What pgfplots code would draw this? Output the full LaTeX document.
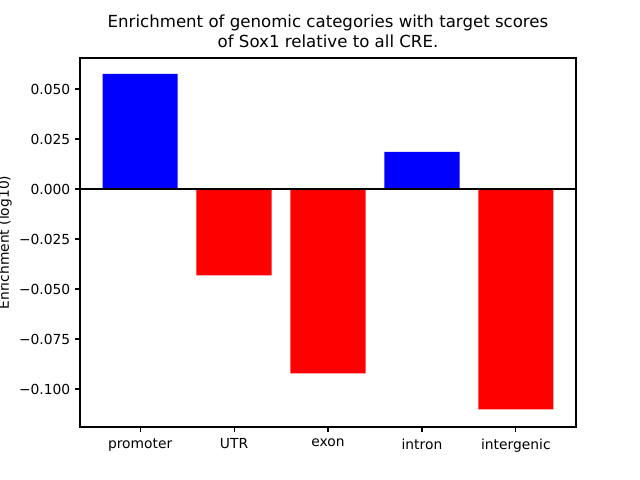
\documentclass[border=0pt]{standalone}
\usepackage{pgfplots}
\pgfplotsset{compat=1.18}
\usepackage{fontspec}
\setmainfont{DejaVu Sans}
\begin{document}
\begin{tikzpicture}
\useasboundingbox (-0.8in,-0.53in) rectangle (5.6in,4.27in);
\begin{axis}[
  at={(0,0)}, anchor=south west,
  scale only axis, width=4.96in, height=3.69in,
  xmin=-0.64, xmax=4.64, ymin=-0.119, ymax=0.0655,
  xtick={0,1,2,3,4},
  xticklabels={promoter,UTR,exon,intron,intergenic},
  ytick={-0.1,-0.075,-0.05,-0.025,0,0.025,0.05},
  yticklabels={−0.100,−0.075,−0.050,−0.025,0.000,0.025,0.050},
  tick align=outside, tick pos=left,
  major tick length=3.5pt,
  tick style={black, line width=0.8pt},
  axis line style={line width=0.8pt},
  ticklabel style={font=\fontsize{10}{12}\selectfont},
  xticklabel style={yshift=-1.5pt},
  ylabel={Enrichment (log10)},
  ylabel style={font=\fontsize{10}{12}\selectfont, xshift=0pt, yshift=-1.5pt},
  title={Enrichment of genomic categories with target scores\\of Sox1 relative to all CRE.},
  title style={align=center, font=\fontsize{12}{14}\selectfont, yshift=-2pt},
  ybar, bar width=0.8, bar shift=0pt,
]
\addplot[draw=none, fill={rgb,255:red,0;green,0;blue,255}] coordinates {(0,0.0575) (3,0.0185)};
\addplot[draw=none, fill={rgb,255:red,255;green,0;blue,0}] coordinates {(1,-0.0432) (2,-0.0922) (4,-0.1102)};
\draw[black, line width=1.2pt] (axis cs:-0.64,0) -- (axis cs:4.64,0);
\end{axis}
\end{tikzpicture}
\end{document}
